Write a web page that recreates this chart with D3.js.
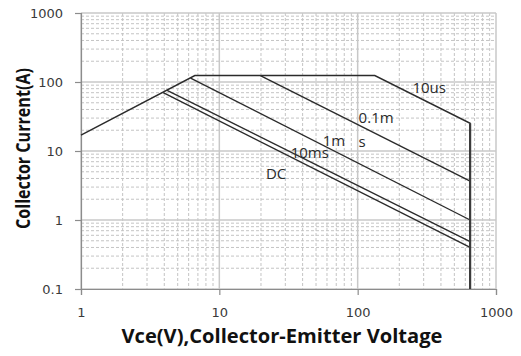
<!DOCTYPE html>
<html><head><meta charset="utf-8">
<script src="https://cdn.jsdelivr.net/npm/d3@7"></script>
<style>body{margin:0;background:#fff}</style>
</head><body>
<svg id="chart" width="521" height="356"></svg>
<script>
// ---- data ----
const xTickValues = [1, 10, 100, 1000];
const xTickLabels = ["1", "10", "100", "1000"];
const yTickValues = [0.1, 1, 10, 100, 1000];
const yTickLabels = ["0.1", "1", "10", "100", "1000"];
const seriesNames = ["10us", "0.1ms", "1ms", "10ms", "DC"];
const seriesVce = [
  [1, 6.65, 133, 650, 650],
  [19.8, 650],
  [6.2, 650],
  [4.16, 650],
  [3.93, 650]
];
const seriesIc = [
  [17, 124, 124, 25.2, 0.1],
  [124, 3.67],
  [114, 1.0],
  [76, 0.485],
  [70, 0.40]
];
const labelTexts = ["10us", "0.1m", "s", "1m", "10ms", "DC"];
const labelVce = [249, 101.6, 101.6, 55.9, 32.8, 21.7];
const labelIc = [69.3, 25.5, 11.4, 11.8, 7.93, 3.93];
const xTitle = "Vce(V),Collector-Emitter Voltage";
const yTitle = "Collector Current(A)";

// ---- chart ----
(function () {
const svg = d3.select("#chart");
const mLeft = 81, mRight = 496, mTop = 13, mBottom = 289;
const x = d3.scaleLog().domain([1, 1000]).range([mLeft, mRight]);
const y = d3.scaleLog().domain([0.1, 1000]).range([mBottom, mTop]);

function minors(lo, hi) {
  const out = [];
  for (let d = lo; d < hi; d *= 10) for (let k = 2; k <= 9; k++) out.push(+(d * k).toPrecision(6));
  return out;
}
const xMinor = minors(1, 1000), yMinor = minors(0.1, 1000);

const grid = svg.append("g");
grid.selectAll(".xm").data(xMinor).join("line")
  .attr("x1", d => x(d)).attr("x2", d => x(d)).attr("y1", mTop).attr("y2", mBottom)
  .attr("stroke", "#c4c4c4").attr("stroke-width", 1).attr("stroke-dasharray", "3,2");
grid.selectAll(".ym").data(yMinor).join("line")
  .attr("y1", d => y(d)).attr("y2", d => y(d)).attr("x1", mLeft).attr("x2", mRight)
  .attr("stroke", "#c4c4c4").attr("stroke-width", 1).attr("stroke-dasharray", "3,2");
grid.selectAll(".xM").data(xTickValues).join("line")
  .attr("x1", d => x(d)).attr("x2", d => x(d)).attr("y1", mTop).attr("y2", mBottom)
  .attr("stroke", "#c8c8c8").attr("stroke-width", 1.5);
grid.selectAll(".yM").data(yTickValues).join("line")
  .attr("y1", d => y(d)).attr("y2", d => y(d)).attr("x1", mLeft).attr("x2", mRight)
  .attr("stroke", "#c8c8c8").attr("stroke-width", 1.5);

// axes
const xAxis = d3.axisBottom(x).tickValues(xTickValues).tickFormat((d, i) => xTickLabels[i]).tickSize(6).tickPadding(13);
const yAxis = d3.axisLeft(y).tickValues(yTickValues).tickFormat((d, i) => yTickLabels[i]).tickSize(6).tickPadding(12);
const gx = svg.append("g").attr("transform", `translate(0,${mBottom})`).call(xAxis);
const gy = svg.append("g").attr("transform", `translate(${mLeft},0)`).call(yAxis);
[gx, gy].forEach(g => {
  g.select(".domain").attr("stroke", "#8c8c8c").attr("stroke-width", 1.2);
  g.selectAll(".tick line").attr("stroke", "#8c8c8c").attr("stroke-width", 1.2);
  g.selectAll(".tick text").attr("font-family", "DejaVu Sans").attr("font-size", 13).attr("fill", "#3a3a3a");
});

// curves
const line = d3.line().x(d => x(d[0])).y(d => y(d[1]));
const series = seriesNames.map((n, i) => seriesVce[i].map((v, j) => [v, seriesIc[i][j]]));
svg.append("g").selectAll("path").data(series).join("path")
  .attr("d", line).attr("fill", "none").attr("stroke", "#2b2b2b").attr("stroke-width", 1.4);
// thicker voltage limit segment of the outline
const outline = series[0];
svg.append("path").attr("d", line(outline.slice(outline.length - 2)))
  .attr("fill", "none").attr("stroke", "#3c3c3c").attr("stroke-width", 2.2);

// curve labels
svg.append("g").selectAll("text").data(labelTexts).join("text")
  .attr("x", (d, i) => x(labelVce[i])).attr("y", (d, i) => y(labelIc[i]))
  .attr("font-family", "Open Sans").attr("font-size", 15).attr("fill", "#2a2a2a")
  .text(d => d);

// titles
svg.append("text").attr("x", 282).attr("y", 343).attr("text-anchor", "middle")
  .attr("font-family", "Open Sans").attr("font-weight", "bold").attr("font-size", 19)
  .attr("textLength", 321).attr("lengthAdjust", "spacingAndGlyphs").attr("fill", "#111")
  .text(xTitle);
svg.append("text").attr("transform", "translate(30,148.5) rotate(-90)").attr("text-anchor", "middle")
  .attr("font-family", "Open Sans").attr("font-weight", "bold").attr("font-size", 19)
  .attr("textLength", 161).attr("lengthAdjust", "spacingAndGlyphs").attr("fill", "#111")
  .text(yTitle);
})();
</script>
</body></html>
